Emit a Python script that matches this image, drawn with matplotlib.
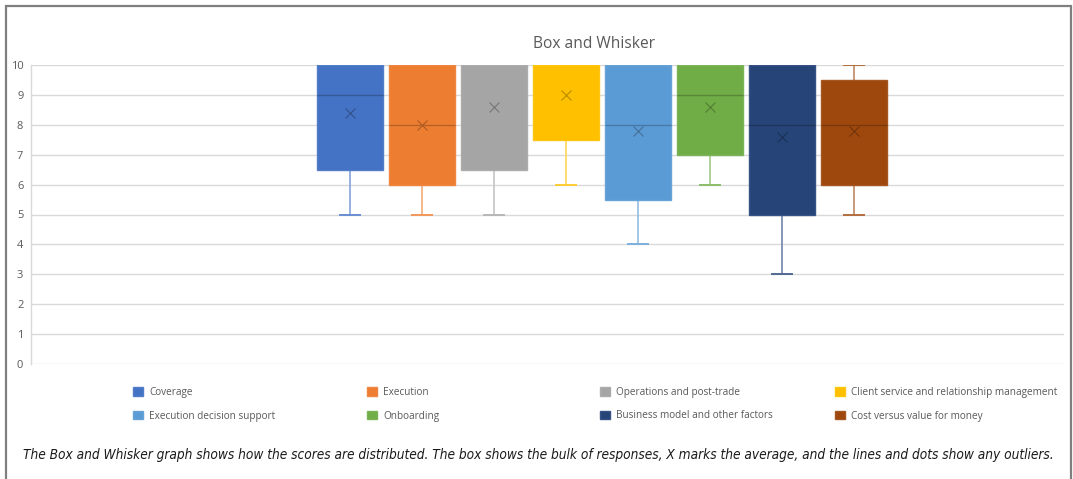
import numpy as np
import matplotlib
matplotlib.use("Agg")
import matplotlib.pyplot as plt
from matplotlib.patches import Rectangle, Patch
from matplotlib.colors import to_rgb

# ---- data ----
series = ["Coverage", "Execution", "Operations and post-trade",
          "Client service and relationship management",
          "Execution decision support", "Onboarding",
          "Business model and other factors", "Cost versus value for money"]
whislo = [5, 5, 5, 6, 4, 6, 3, 5]
q1     = [6.5, 6, 6.5, 7.5, 5.5, 7, 5, 6]
median = [9, 8, 10, 10, 8, 9, 8, 8]
q3     = [10, 10, 10, 10, 10, 10, 10, 9.5]
whishi = [10, 10, 10, 10, 10, 10, 10, 10]
mean   = [8.4, 8.0, 8.6, 9.0, 7.8, 8.6, 7.6, 7.8]
colors = ["#4472C4", "#ED7D31", "#A5A5A5", "#FFC000",
          "#5B9BD5", "#70AD47", "#264478", "#9E480E"]
yticks = list(range(0, 11))
title = "Box and Whisker"
caption = ("The Box and Whisker graph shows how the scores are distributed. "
           "The box shows the bulk of responses, X marks the average, and the "
           "lines and dots show any outliers.")

W, H = 1073, 479
fig = plt.figure(figsize=(W / 100, H / 100), dpi=100)
fig.patch.set_facecolor("white")

def px(x0, y0, x1, y1):
    return [x0 / W, 1 - y1 / H, (x1 - x0) / W, (y1 - y0) / H]

ax = fig.add_axes(px(31, 65, 1064, 364))

def darker(c, f=0.7):
    r, g, b = to_rgb(c)
    return (r * f, g * f, b * f)

def lighter(c, f=0.35):
    r, g, b = to_rgb(c)
    return (r + (1 - r) * f, g + (1 - g) * f, b + (1 - b) * f)

positions = np.arange(len(series))
for i in range(len(series)):
    c = colors[i]
    st = dict(med=median[i], q1=q1[i], q3=q3[i], whislo=whislo[i],
              whishi=whishi[i], mean=mean[i], fliers=[], label=series[i])
    med_z = 2.5 if median[i] >= q3[i] else 3.5
    ax.bxp([st], positions=[positions[i]], widths=0.915, patch_artist=True,
           showmeans=True, showfliers=False,
           boxprops=dict(facecolor=c, edgecolor=lighter(c, 0.08), linewidth=1.0,
                         zorder=3),
           medianprops=dict(color=darker(c, 0.78), linewidth=1.0, zorder=med_z),
           whiskerprops=dict(color=lighter(c), linewidth=1.2, zorder=2.5),
           capprops=dict(color=lighter(c, 0.2), linewidth=1.4, zorder=2.5),
           capwidths=0.27,
           meanprops=dict(marker="x", markeredgecolor=darker(c, 0.72),
                          markersize=6.5, markeredgewidth=0.8, linestyle="none",
                          zorder=4))

ax.set_xlim((31 - 350) / 72, (1064 - 350) / 72)
ax.set_ylim(0, 10)
ax.set_yticks(yticks)
ax.set_yticklabels([str(t) for t in yticks], fontsize=8, color="#595959",
                   family="Open Sans")
ax.set_xticks([])
ax.tick_params(axis="y", length=0, pad=5.5)
ax.grid(axis="y", color="#D9D9D9", linewidth=1.0, zorder=0)
ax.set_axisbelow(True)
for s in ["top", "right", "bottom"]:
    ax.spines[s].set_visible(False)
ax.spines["left"].set_color("#D9D9D9")
ax.spines["left"].set_linewidth(1.0)

fig.text(594 / W, 1 - 44 / H, title, ha="center", va="center",
         fontsize=11.2, color="#595959", family="Open Sans")

# legend: four columns, two rows
col_x = [131, 365, 598, 833]
for j in range(4):
    hs = []
    for i in (j, j + 4):
        hs.append(Patch(facecolor=colors[i], edgecolor=lighter(colors[i], 0.08),
                        label=series[i]))
    fig.legend(handles=hs, loc="upper left",
               bbox_to_anchor=(col_x[j] / W, 1 - 385 / H),
               frameon=False, labelcolor="#595959",
               handlelength=0.95, handleheight=0.95, handletextpad=0.65,
               labelspacing=1.25, borderpad=0.2, borderaxespad=0,
               prop=dict(family="Open Sans", size=7.2))

cap = fig.text(538 / W, 1 - 455 / H, caption, ha="center", va="center",
               fontsize=12, style="italic", color="#1a1a1a",
               family="DejaVu Sans", fontstretch="condensed")
fig.canvas.draw()
bb = cap.get_window_extent()
target = 1031
cap.set_fontsize(12 * target / bb.width)

# outer frame (open at bottom)
fig.patches.append(Rectangle((5.5 / W, -0.05), (1070.5 - 5.5) / W, 1 - 6 / H + 0.05,
                             transform=fig.transFigure, fill=False,
                             edgecolor="#7F7F7F", linewidth=1.6))

fig.savefig("out.png", dpi=100, facecolor="white")
